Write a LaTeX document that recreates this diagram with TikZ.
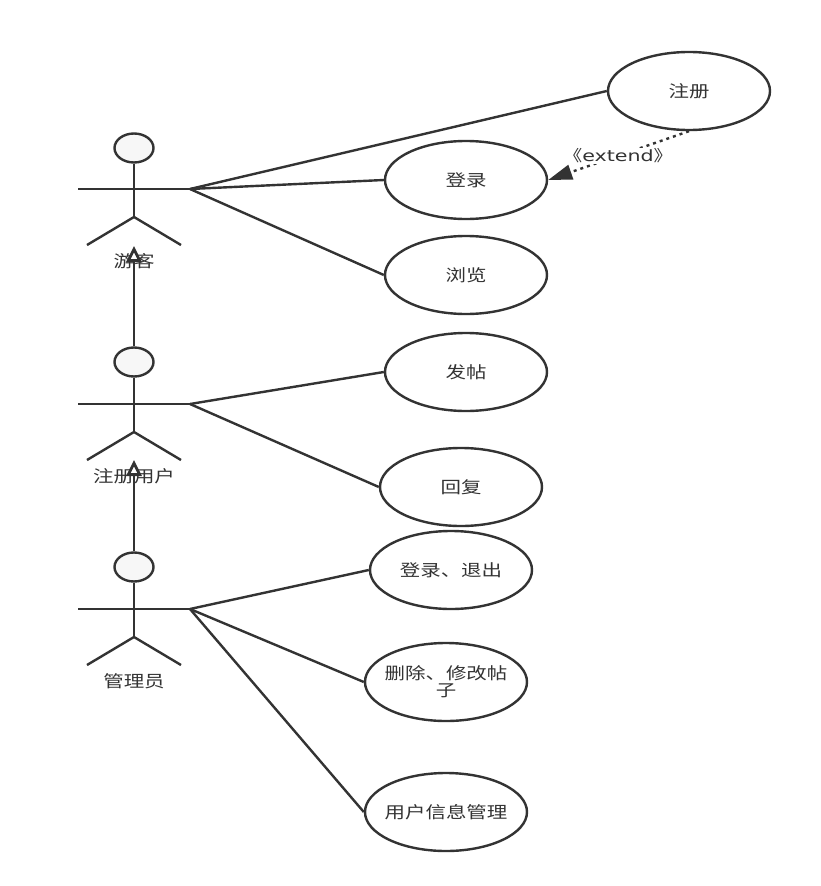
\documentclass[tikz,border=0pt]{standalone}
\usepackage{fontspec}
\setmainfont[FakeStretch=1.24]{Noto Sans CJK SC}
\newfontfamily\latinf[FakeStretch=1.33]{DejaVu Sans}
\usetikzlibrary{arrows.meta,shapes.geometric}
\definecolor{ink}{HTML}{333333}
\tikzset{
  usecase/.style={draw=ink,line width=2.4pt,ellipse,fill=white,minimum width=162pt,minimum height=78pt,inner sep=0pt,align=center,text=ink,font=\fontsize{16.5}{17}\selectfont},
  widecase/.style={usecase,inner xsep=-10pt},
  headshape/.style={draw=ink,line width=2.4pt,ellipse,fill=black!3,minimum width=39pt,minimum height=29pt,inner sep=0pt},
  limb/.style={draw=ink,line width=2.4pt},
  assoc/.style={draw=ink,line width=2.4pt},
  actorlabel/.style={text=ink,font=\fontsize{16.5}{18}\selectfont,inner sep=0pt},
  gen/.style={draw=ink,line width=2.8pt,-{Triangle[open,fill=white,length=16pt,width=15pt]}},
  ext/.style={draw=ink,line width=2.4pt,dash pattern=on 3pt off 4pt,-{Triangle[length=24pt,width=15pt,fill=ink]}}
}
\begin{document}
\begin{tikzpicture}[x=1pt,y=-1pt]
\useasboundingbox[fill=white] (0,0) rectangle (821,886);
% use cases
\node[usecase] (reg) at (689,91) {注册};
\node[usecase] (login) at (466,180) {登录};
\node[usecase] (browse) at (466,275) {浏览};
\node[usecase] (post) at (466,372) {发帖};
\node[usecase] (reply) at (461,487) {回复};
\node[usecase] (logout) at (451,570) {登录、退出};
\node[widecase] (del) at (446,682) {删除、修改帖\\子};
\node[widecase] (info) at (446,812) {用户信息管理};
% actor 1
\node[headshape] (h1) at (134,148) {};
\coordinate (b1) at (134,217);
\coordinate (la1) at (78,189);
\coordinate (ra1) at (190,189);
\coordinate (ll1) at (87,245);
\coordinate (rl1) at (181,245);
\draw[limb] (h1) -- (b1);
\draw[limb] (la1) -- (ra1);
\draw[limb] (ll1) -- (b1) -- (rl1);
\node[actorlabel] (t1) at (134,261) {游客};
% actor 2
\node[headshape] (h2) at (134,362) {};
\coordinate (b2) at (134,432);
\coordinate (la2) at (78,404);
\coordinate (ra2) at (190,404);
\coordinate (ll2) at (87,460);
\coordinate (rl2) at (181,460);
\draw[limb] (h2) -- (b2);
\draw[limb] (la2) -- (ra2);
\draw[limb] (ll2) -- (b2) -- (rl2);
\node[actorlabel] (t2) at (134,476) {注册用户};
% actor 3
\node[headshape] (h3) at (134,567) {};
\coordinate (b3) at (134,637);
\coordinate (la3) at (78,609);
\coordinate (ra3) at (190,609);
\coordinate (ll3) at (87,665);
\coordinate (rl3) at (181,665);
\draw[limb] (h3) -- (b3);
\draw[limb] (la3) -- (ra3);
\draw[limb] (ll3) -- (b3) -- (rl3);
\node[actorlabel] (t3) at (134,681) {管理员};
% generalisation
\coordinate (g1) at (134,246);
\coordinate (g2) at (134,460);
\draw[gen] (h2) -- (g1);
\draw[gen] (h3) -- (g2);
% associations
\draw[assoc] (ra1) -- (reg.west);
\draw[assoc] (ra1) -- (login.west);
\draw[assoc] (ra1) -- (browse.west);
\draw[assoc] (ra2) -- (post.west);
\draw[assoc] (ra2) -- (reply.west);
\draw[assoc] (ra3) -- (logout.west);
\draw[assoc] (ra3) -- (del.west);
\draw[assoc] (ra3) -- (info.west);
% extend
\draw[ext] (reg.south) -- (login.east);
\node[fill=white,text=ink,inner sep=1pt,minimum height=16pt,font=\fontsize{15.5}{16}\selectfont] (extlabel) at (618,156) {《{\latinf extend}》};
\end{tikzpicture}
\end{document}
